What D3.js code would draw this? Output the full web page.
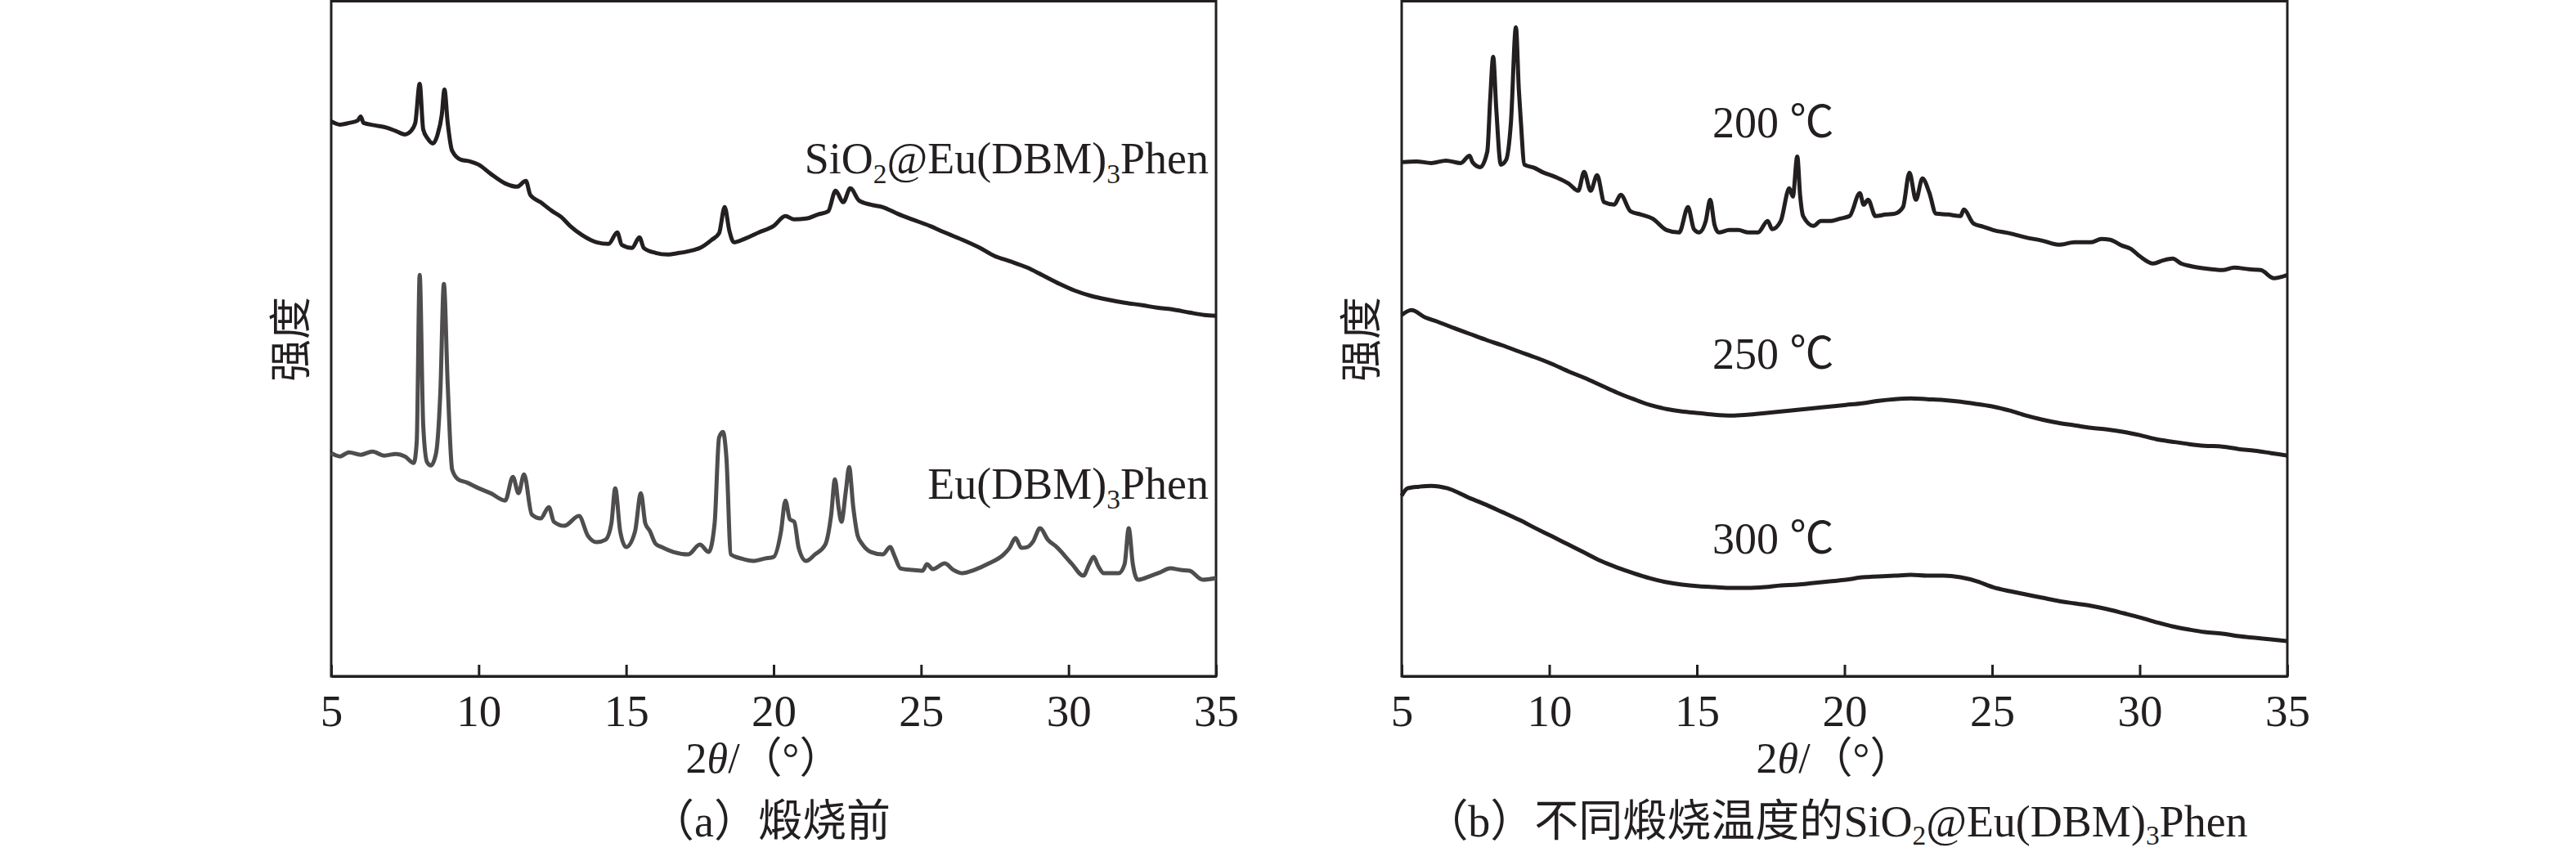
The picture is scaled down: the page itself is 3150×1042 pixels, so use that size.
<!DOCTYPE html>
<html>
<head>
<meta charset="utf-8">
<script src="https://cdn.jsdelivr.net/npm/d3@7"></script>
<style>
  html, body { margin: 0; padding: 0; background: #fff; }
  svg { display: block; }
  text { font-family: "Liberation Serif", "Noto Sans CJK SC", serif; fill: #231f20; }
</style>
</head>
<body>
<svg id="chart" width="3150" height="1042"></svg>
<script>
// ---------- DATA (2θ in degrees, intensity in arbitrary units) ----------
const xTicks = [5, 10, 15, 20, 25, 30, 35];

// Panel (a): before calcination
const sio2EuBefore = [
  [5.0,679],[5.3,675],[5.6,677],[5.9,680],[6.0,685],[6.1,677],[6.5,674],[6.9,671],[7.2,667],[7.5,663],
  [7.7,667],[7.85,677],[8.0,725],[8.12,669],[8.27,658],[8.45,652],[8.6,662],[8.75,687],[8.84,718],[8.95,677],
  [9.1,643],[9.4,632],[9.7,630],[10.0,626],[10.4,615],[10.9,603],[11.3,599],[11.6,606],[11.75,589],[12.1,580],
  [12.5,569],[12.8,562],[13.1,551],[13.5,540],[14.0,531],[14.4,529],[14.7,543],[14.85,528],[15.2,524],[15.45,537],
  [15.6,524],[16.0,518],[16.4,516],[16.8,518],[17.1,520],[17.5,524],[17.9,534],[18.15,542],[18.34,574],[18.5,545],
  [18.65,531],[19.0,535],[19.5,543],[20.0,551],[20.4,563],[20.7,559],[21.1,560],[21.5,565],[21.85,569],[22.1,594],
  [22.36,580],[22.6,597],[22.9,582],[23.3,577],[23.7,574],[24.2,566],[24.7,559],[25.3,551],[25.8,543],[26.4,534],
  [27.0,524],[27.5,514],[28.0,508],[28.6,500],[29.1,491],[29.7,480],[30.2,472],[30.8,465],[31.3,461],[31.9,457],
  [32.5,454],[33.0,451],[33.5,449],[34.1,445],[34.6,442],[35.0,441]
];
const euComplex = [
  [5.0,273],[5.3,269],[5.6,274],[6.0,271],[6.4,275],[6.8,270],[7.2,272],[7.5,269],[7.8,261],[7.9,287],
  [8.0,491],[8.12,307],[8.25,262],[8.38,258],[8.55,272],[8.7,347],[8.82,480],[8.95,357],[9.1,253],[9.3,241],
  [9.6,237],[10.0,230],[10.4,224],[10.9,215],[11.16,244],[11.35,224],[11.54,247],[11.8,198],[12.1,193],[12.38,207],
  [12.55,189],[12.9,184],[13.4,196],[13.7,172],[14.0,164],[14.3,167],[14.5,187],[14.63,230],[14.8,177],[15.0,158],
  [15.3,177],[15.5,224],[15.65,187],[15.8,178],[16.0,162],[16.2,158],[16.6,152],[17.1,149],[17.5,161],[17.8,152],
  [18.0,187],[18.15,292],[18.28,299],[18.4,267],[18.55,149],[18.9,144],[19.3,141],[19.7,144],[20.0,146],[20.25,177],
  [20.4,215],[20.55,192],[20.7,189],[20.85,157],[21.1,141],[21.4,149],[21.75,161],[21.95,197],[22.08,241],[22.2,207],
  [22.3,189],[22.45,227],[22.56,256],[22.7,207],[22.85,172],[23.0,162],[23.3,152],[23.7,149],[23.95,158],[24.1,147],
  [24.3,132],[24.7,130],[25.05,129],[25.2,137],[25.4,131],[25.8,138],[26.1,130],[26.4,126],[26.8,130],[27.3,138],
  [27.8,149],[28.0,157],[28.2,169],[28.4,157],[28.6,158],[28.8,165],[29.03,181],[29.3,167],[29.6,158],[30.1,138],
  [30.5,123],[30.7,137],[30.85,146],[31.0,135],[31.2,126],[31.7,126],[31.9,137],[32.04,181],[32.18,137],[32.35,118],
  [32.8,123],[33.1,127],[33.45,132],[33.8,130],[34.1,129],[34.55,118],[35.0,120]
];

// Panel (b): SiO2@Eu(DBM)3Phen calcined at different temperatures
const t200 = [
  [5.0,629],[5.5,630],[6.0,628],[6.5,631],[7.0,628],[7.3,637],[7.4,629],[7.66,623],[7.9,642],[8.0,707],
  [8.1,758],[8.2,697],[8.36,626],[8.54,632],[8.7,677],[8.87,794],[8.97,717],[9.03,683],[9.16,626],[9.5,622],
  [9.76,617],[10.2,611],[10.65,603],[10.98,594],[11.18,617],[11.4,594],[11.62,613],[11.86,580],[12.2,577],[12.42,589],
  [12.75,569],[13.1,565],[13.5,560],[13.97,546],[14.4,543],[14.7,574],[14.9,547],[15.07,543],[15.3,557],[15.45,583],
  [15.6,552],[15.74,543],[16.1,546],[16.4,546],[16.75,543],[17.07,543],[17.4,557],[17.55,547],[17.84,557],[18.13,597],
  [18.25,587],[18.4,636],[18.5,587],[18.6,563],[18.95,551],[19.2,557],[19.5,557],[19.85,560],[20.17,563],[20.52,591],
  [20.65,577],[20.8,583],[21.05,563],[21.4,565],[21.7,566],[21.98,574],[22.2,616],[22.42,583],[22.64,609],[22.87,592],
  [23.1,566],[23.5,565],[23.93,563],[24.04,571],[24.37,554],[24.7,550],[25.03,546],[25.6,542],[26.14,537],[26.7,533],
  [27.25,528],[27.8,531],[28.36,531],[28.7,535],[29.0,534],[29.4,527],[29.7,523],[30.0,514],[30.46,505],[30.8,509],
  [31.12,511],[31.4,505],[31.7,502],[32.2,499],[32.8,497],[33.2,500],[33.7,498],[34.1,497],[34.55,487],[35.0,491]
];
const t250 = [
  [5.0,442],[5.33,448],[5.8,439],[6.2,434],[6.7,427],[7.3,419],[7.9,411],[8.4,405],[9.0,397],[9.54,390],
  [10.1,382],[10.65,373],[11.2,365],[11.75,356],[12.3,347],[12.86,339],[13.4,332],[13.97,327],[14.5,324],[15.07,322],
  [15.6,320],[16.18,319],[16.7,320],[17.3,322],[17.85,324],[18.4,326],[18.95,328],[19.5,330],[20.05,332],[20.6,334],
  [21.15,337],[21.7,339],[22.25,340],[22.8,339],[23.35,338],[23.93,336],[24.5,333],[25.03,330],[25.6,325],[26.14,319],
  [26.7,314],[27.25,310],[27.8,307],[28.36,304],[28.9,302],[29.46,299],[30.0,295],[30.57,290],[31.1,287],[31.68,284],
  [32.2,282],[32.8,281],[33.35,278],[33.9,276],[34.45,273],[35.0,270]
];
const t300 = [
  [5.0,221],[5.2,230],[5.6,232],[6.0,233],[6.55,230],[7.3,218],[7.85,210],[8.4,201],[9.0,191],[9.54,181],
  [10.1,171],[10.65,161],[11.2,151],[11.75,141],[12.3,133],[12.86,126],[13.4,120],[13.97,115],[14.5,112],[15.07,110],
  [15.6,109],[16.18,108],[16.7,108],[17.3,109],[17.85,111],[18.4,112],[18.95,114],[19.5,116],[20.05,118],[20.6,121],
  [21.15,122],[21.7,123],[22.25,124],[22.8,123],[23.35,123],[23.93,121],[24.5,116],[25.03,109],[25.6,104],[26.14,100],
  [26.7,96],[27.25,92],[27.8,89],[28.36,86],[28.9,82],[29.46,77],[30.0,72],[30.57,66],[31.1,61],[31.68,57],
  [32.2,54],[32.8,52],[33.35,49],[33.9,47],[34.45,45],[35.0,43]
];

const seriesA = [
  { name: "SiO2@Eu(DBM)3Phen", data: sio2EuBefore, color: "#231f20" },
  { name: "Eu(DBM)3Phen", data: euComplex, color: "#4f4d4e" }
];
const seriesB = [
  { name: "200 ℃", data: t200, color: "#231f20" },
  { name: "250 ℃", data: t250, color: "#231f20" },
  { name: "300 ℃", data: t300, color: "#231f20" }
];
const captionA = "（a）煅烧前";
const captionBPrefix = "（b）不同煅烧温度的";
const captionBFormula = "SiO2@Eu(DBM)3Phen";

// ---------- LAYOUT ----------
const svg = d3.select("#chart");
const plotTop = 1.5, plotBottom = 827;
const panels = [
  { left: 405, right: 1487 },
  { left: 1714, right: 2797 }
];

function drawPanel(p) {
  const x = d3.scaleLinear().domain([5, 35]).range([p.left, p.right]);
  const y = d3.scaleLinear().domain([0, 826]).range([plotBottom, plotTop]);
  const g = svg.append("g");
  g.append("rect")
    .attr("x", p.left).attr("y", plotTop)
    .attr("width", p.right - p.left).attr("height", plotBottom - plotTop)
    .attr("fill", "none").attr("stroke", "#231f20").attr("stroke-width", 3);
  const ax = g.append("g").attr("transform", `translate(0,${plotBottom})`)
    .call(d3.axisBottom(x).tickValues(xTicks).tickSizeInner(-14).tickSizeOuter(0).tickPadding(0).tickFormat(d3.format("d")));
  ax.select(".domain").attr("stroke", "#231f20").attr("stroke-width", 3);
  ax.selectAll(".tick line").attr("stroke", "#231f20").attr("stroke-width", 3);
  ax.selectAll(".tick text")
    .attr("y", 61).attr("dy", null)
    .style("font-size", "55px").style("font-family", "'Liberation Serif', serif").attr("fill", "#231f20");
  return { g, x, y };
}

function drawLines(ctx, series) {
  const line = d3.line().x(d => ctx.x(d[0])).y(d => ctx.y(d[1])).curve(d3.curveMonotoneX);
  ctx.g.selectAll("path.trace").data(series).enter().append("path")
    .attr("class", "trace")
    .attr("d", d => line(d.data))
    .attr("fill", "none")
    .attr("stroke", d => d.color)
    .attr("stroke-width", 5)
    .attr("stroke-linejoin", "round");
}

function formula(textSel, str, shift) {
  const parts = [];
  let buf = "";
  for (let i = 0; i < str.length; i++) {
    const c = str[i];
    const prev = str[i - 1];
    if (/[0-9]/.test(c) && prev && /[A-Za-z)]/.test(prev)) {
      if (buf) parts.push({ t: buf, sub: false });
      parts.push({ t: c, sub: true });
      buf = "";
    } else buf += c;
  }
  if (buf) parts.push({ t: buf, sub: false });
  let shifted = false;
  parts.forEach(pt => {
    const ts = textSel.append("tspan").text(pt.t);
    if (pt.sub) { ts.attr("dy", shift).style("font-size", "0.62em"); shifted = true; }
    else if (shifted) { ts.attr("dy", -shift); shifted = false; }
  });
}

function yTitle(ctx, cx) {
  ctx.g.append("text")
    .attr("transform", `translate(${cx},415) rotate(-90)`)
    .attr("text-anchor", "middle").attr("dominant-baseline", "central")
    .style("font-size", "52px").style("font-family", "'Noto Sans CJK SC', sans-serif")
    .text("强度");
}

function xTitle(ctx, cx) {
  const t = ctx.g.append("text").attr("x", cx).attr("y", 945).attr("text-anchor", "middle")
    .style("font-size", "52px");
  t.append("tspan").text("2");
  t.append("tspan").style("font-style", "italic").text("θ");
  t.append("tspan").text("/（°）");
}

// ---------- PANEL A ----------
const A = drawPanel(panels[0]);
drawLines(A, seriesA);
yTitle(A, 351);
xTitle(A, 934);
formula(A.g.append("text").attr("x", 1478).attr("y", 212).attr("text-anchor", "end").style("font-size", "54px"), seriesA[0].name, 12);
formula(A.g.append("text").attr("x", 1478).attr("y", 610).attr("text-anchor", "end").style("font-size", "54px"), seriesA[1].name, 12);
A.g.append("text").attr("x", 942).attr("y", 1023).attr("text-anchor", "middle").style("font-size", "54px")
  .text(captionA);

// ---------- PANEL B ----------
const B = drawPanel(panels[1]);
drawLines(B, seriesB);
yTitle(B, 1660);
xTitle(B, 2243);
const labelY = [168, 451, 677];
seriesB.forEach((s, i) => {
  B.g.append("text").attr("x", 2094).attr("y", labelY[i]).attr("text-anchor", "start")
    .style("font-size", "54px").text(s.name);
});
const capB = B.g.append("text").attr("x", 2245).attr("y", 1023).attr("text-anchor", "middle").style("font-size", "54px");
capB.append("tspan").text(captionBPrefix);
formula(capB, captionBFormula, 10);
</script>
</body>
</html>
